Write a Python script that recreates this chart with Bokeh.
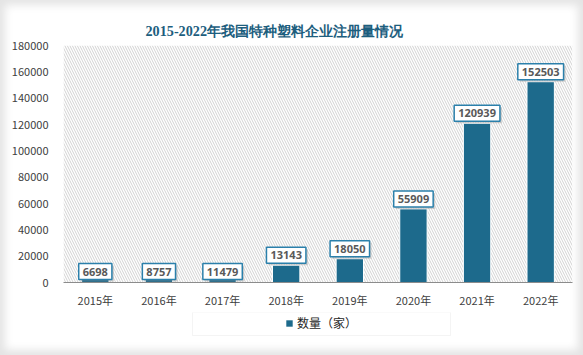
from bokeh.plotting import figure
from bokeh.models import (Range1d, BoxAnnotation, SingleIntervalTicker, NumeralTickFormatter,
                          ColumnDataSource, Legend, LegendItem)
from bokeh.layouts import column
from bokeh.core.properties import value
from bokeh.embed import file_html
from bokeh.resources import INLINE

# ---- data ----
years = ["2015年", "2016年", "2017年", "2018年", "2019年", "2020年", "2021年", "2022年"]
counts = [6698, 8757, 11479, 13143, 18050, 55909, 120939, 152503]
series_name = "数量（家）"
title_text = "2015-2022年我国特种塑料企业注册量情况"
y_max = 180000
y_step = 20000

BAR = "#1d6a8c"
FIG_W, FIG_H = 583, 312
B_TOP, B_BOTTOM, B_LEFT, B_RIGHT = 45, 30, 63, 11
FRAME_H = FIG_H - B_TOP - B_BOTTOM
FRAME_W = FIG_W - B_LEFT - B_RIGHT
upp = y_max / FRAME_H  # data units per pixel

label_y = [11 * upp if v / upp < 16 else v + 10 * upp for v in counts]
src = ColumnDataSource(dict(x=years, top=counts, ly=label_y, txt=[str(v) for v in counts]))

p = figure(width=FIG_W, height=FIG_H, x_range=years, y_range=Range1d(0, y_max),
           output_backend="svg", toolbar_location=None,
           min_border_top=B_TOP, min_border_bottom=B_BOTTOM,
           min_border_left=B_LEFT, min_border_right=B_RIGHT)
p.outline_line_color = None
p.border_fill_alpha = 0
p.xgrid.grid_line_color = None
p.ygrid.grid_line_color = None

p.title.text = title_text
p.title.text_font = "Liberation Serif"
p.title.text_font_size = "14.2px"
p.title.text_font_style = "bold"
p.title.text_color = "#1d5e7e"
p.title.align = "left"
p.title.offset = 82
p.title.standoff = 13

hatch = BoxAnnotation(left=0, right=len(years), bottom=0, top=y_max,
                      fill_alpha=0, line_alpha=0, hatch_pattern="\\", hatch_color="#d2d2d2",
                      hatch_scale=5, hatch_weight=1, level="underlay")
p.add_layout(hatch)

bars = p.vbar(x="x", top="top", width=0.43, source=src, fill_color=BAR, line_color="white", line_width=1)

pad = dict(left=4, right=4, top=4, bottom=4)
# label shadows
p.text(x="x", y="ly", text="txt", source=src, text_alpha=0, text_align="center", text_baseline="middle",
       text_font=value("Noto Sans"), text_font_size="11px", text_font_style="bold",
       x_offset=2, y_offset=2, padding=pad,
       background_fill_color="#8a8a8a", background_fill_alpha=0.35)
p.text(x="x", y="ly", text="txt", source=src, text_color="#595959", text_align="center", text_baseline="middle",
       text_font=value("Noto Sans"), text_font_size="11px", text_font_style="bold",
       padding=pad, background_fill_color="white", border_line_color="#2b80ab", border_line_width=1.5)

p.yaxis.ticker = SingleIntervalTicker(interval=y_step)
p.yaxis.formatter = NumeralTickFormatter(format="0")
p.yaxis.axis_line_color = None
p.yaxis.major_tick_line_color = None
p.yaxis.minor_tick_line_color = None
p.yaxis.major_tick_out = 0
p.yaxis.major_label_standoff = 11
p.xaxis.major_tick_line_color = None
p.xaxis.major_tick_out = 0
p.xaxis.axis_line_color = "#8c8c8c"
p.xaxis.major_label_standoff = 9
for ax in (p.xaxis, p.yaxis):
    ax.major_label_text_font = "Noto Sans CJK SC"
    ax.major_label_text_font_size = "11px"
    ax.major_label_text_color = "#404040"

# ---- legend strip (same borders as the main plot, frame measured in pixels) ----
LF_H = 43
BOX_H = 23
lf = figure(width=FIG_W, height=LF_H, x_range=Range1d(0, FRAME_W), y_range=Range1d(0, LF_H),
            x_axis_type=None, y_axis_type=None, output_backend="svg", toolbar_location=None,
            min_border_left=B_LEFT, min_border_right=B_RIGHT, min_border_top=0, min_border_bottom=0)
lf.outline_line_color = None
lf.border_fill_alpha = 0
lf.background_fill_alpha = 0
lf.grid.visible = False
box_top = LF_H
box_bottom = LF_H - BOX_H
frame_box = BoxAnnotation(left=192 - B_LEFT, right=450 - B_LEFT, bottom=box_bottom, top=box_top,
                          fill_color="white", fill_alpha=1, line_color="#d9d9d9", line_width=1,
                          level="underlay")
lf.add_layout(frame_box)
swatch = lf.vbar(x="top", top="top", width=0.5, source=src, fill_color=BAR, line_color=None, visible=False)
legend = Legend(items=[LegendItem(label=series_name, renderers=[swatch])],
                location=(285 - B_LEFT, box_bottom + 4), padding=0, margin=0,
                glyph_width=8, glyph_height=8, label_standoff=4,
                border_line_alpha=0, background_fill_alpha=0,
                label_text_font="Noto Sans CJK SC", label_text_font_size="12px",
                label_text_color="#262626")
lf.add_layout(legend)

layout = column(p, lf, spacing=0,
                styles={"background-color": "#ffffff",
                        "box-shadow": "inset 0 0 9px 5px #e4e4e4"})
open("out.html", "w").write(file_html(layout, INLINE))
